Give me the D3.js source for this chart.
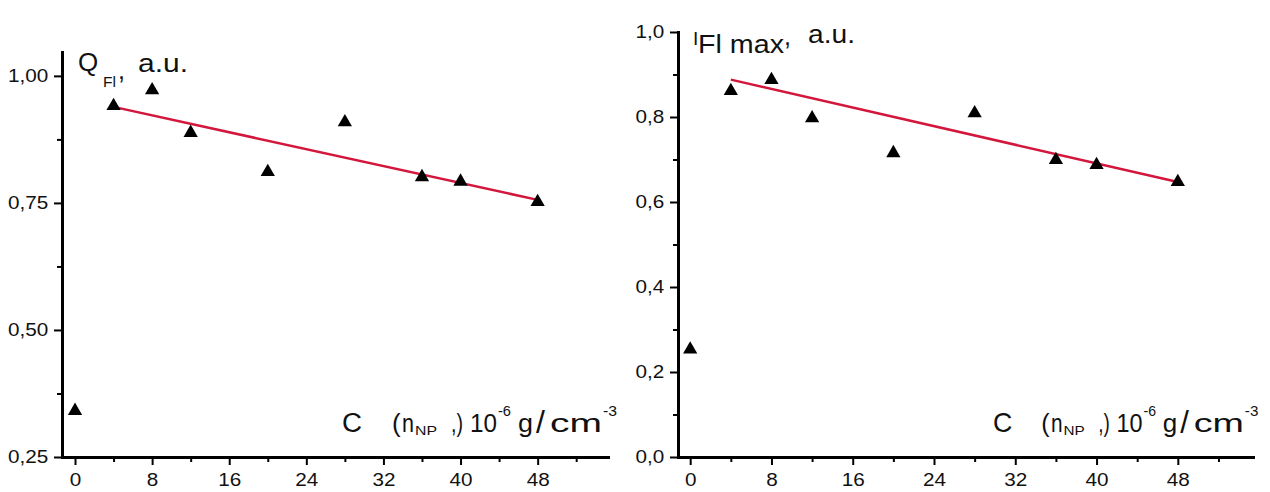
<!DOCTYPE html>
<html>
<head>
<meta charset="utf-8">
<script src="https://cdn.jsdelivr.net/npm/d3@7"></script>
<style>
  html, body { margin: 0; padding: 0; background: #fff; }
  svg { display: block; }
  text { font-family: "Liberation Sans", Arial, sans-serif; fill: #111; }
</style>
</head>
<body>
<svg id="chart" width="1270" height="492"></svg>
<script>
// Nanoparticle concentration C(n_NP), 10^-6 g/cm^3
const concentration = [0, 4, 8, 12, 20, 28, 36, 40, 48];
// Fluorescence quantum yield Q_Fl, a.u.
const quantumYield = [0.345, 0.945, 0.976, 0.892, 0.815, 0.913, 0.805, 0.796, 0.756];
// Maximum fluorescence intensity I_Fl max, a.u.
const maxIntensity = [0.258, 0.866, 0.892, 0.802, 0.720, 0.814, 0.704, 0.692, 0.652];

// Linear fit over the doped samples (start / end concentration)
const fitRange = [4, 48];
const fitQuantumYield = [0.939, 0.756];
const fitMaxIntensity = [0.888, 0.647];

// Axis ticks
const xTicks = [0, 8, 16, 24, 32, 40, 48];
const xMinorTicks = [4, 12, 20, 28, 36, 44, 52];
const qTicks = [0.25, 0.50, 0.75, 1.00];
const qMinorTicks = [0.375, 0.625, 0.875];
const iTicks = [0.0, 0.2, 0.4, 0.6, 0.8, 1.0];
const iMinorTicks = [0.1, 0.3, 0.5, 0.7, 0.9];

const svg = d3.select("#chart");
const LABEL_STRETCH = 1.15;
const FIT_COLOR = "#d3163c";

const commaFormat = digits => v => d3.format(`.${digits}f`)(v).replace(".", ",");

const panels = [
  {
    values: quantumYield, fit: fitQuantumYield,
    xDomain: [-1.35, 55.3], xRange: [62, 608],
    yDomain: [0.25, 1.047], yRange: [457, 52],
    yTicks: qTicks, yMinor: qMinorTicks, yFormat: commaFormat(2),
    xLabel: { x: 342, sx: 1.0 }
  },
  {
    values: maxIntensity, fit: fitMaxIntensity,
    xDomain: [-1.2, 55.4], xRange: [678, 1253],
    yDomain: [0, 1.0], yRange: [457, 32],
    yTicks: iTicks, yMinor: iMinorTicks, yFormat: commaFormat(1),
    xLabel: { x: 993, sx: 0.965 }
  }
];

// Single positioned run of text; optional textLength stretches the glyphs
function piece(parent, str, x, y, size, len) {
  const t = parent.append("text")
    .attr("x", x).attr("y", y)
    .attr("font-size", size)
    .text(str);
  if (len) t.attr("textLength", len).attr("lengthAdjust", "spacingAndGlyphs");
  return t;
}

function styleTickText(sel) {
  sel.selectAll("text")
    .attr("font-size", 18)
    .attr("fill", "#1a1a1a")
    .attr("transform", `scale(${LABEL_STRETCH},1)`);
}

panels.forEach(p => {
  const x = d3.scaleLinear().domain(p.xDomain).range(p.xRange);
  const y = d3.scaleLinear().domain(p.yDomain).range(p.yRange);
  const g = svg.append("g");

  // x axis: major ticks with labels, minor ticks without
  const xAxisG = g.append("g").attr("transform", `translate(0,${p.yRange[0]})`);
  xAxisG.append("g")
    .call(d3.axisBottom(x).tickValues(xMinorTicks.filter(v => v <= p.xDomain[1]))
      .tickSize(5).tickSizeOuter(0).tickFormat(""))
    .call(a => a.select(".domain").remove())
    .call(a => a.selectAll("line").attr("stroke", "#000").attr("stroke-width", 2));
  xAxisG.append("g")
    .call(d3.axisBottom(x).tickValues(xTicks).tickSize(8).tickPadding(8)
      .tickSizeOuter(0).tickFormat(d3.format("d")))
    .call(a => a.select(".domain").attr("stroke", "#000").attr("stroke-width", 3)
      .attr("stroke-linecap", "square"))
    .call(a => a.selectAll("line").attr("stroke", "#000").attr("stroke-width", 2))
    .call(styleTickText);

  // y axis
  const yAxisG = g.append("g").attr("transform", `translate(${p.xRange[0]},0)`);
  yAxisG.append("g")
    .call(d3.axisLeft(y).tickValues(p.yMinor).tickSize(5).tickSizeOuter(0).tickFormat(""))
    .call(a => a.select(".domain").remove())
    .call(a => a.selectAll("line").attr("stroke", "#000").attr("stroke-width", 2));
  yAxisG.append("g")
    .call(d3.axisLeft(y).tickValues(p.yTicks).tickSize(8).tickPadding(4)
      .tickSizeOuter(0).tickFormat(p.yFormat))
    .call(a => a.select(".domain").attr("stroke", "#000").attr("stroke-width", 3)
      .attr("stroke-linecap", "square"))
    .call(a => a.selectAll("line").attr("stroke", "#000").attr("stroke-width", 2))
    .call(styleTickText);

  // linear fit
  const line = d3.line().x(d => x(d[0])).y(d => y(d[1]));
  g.append("path")
    .datum(fitRange.map((c, i) => [c, p.fit[i]]))
    .attr("d", line)
    .attr("fill", "none")
    .attr("stroke", FIT_COLOR)
    .attr("stroke-width", 2.5);

  // triangle markers (bounding box centred on the data point)
  const triSize = 88;
  const triOffset = Math.sqrt(triSize / (3 * Math.sqrt(3))) / 2;
  g.append("g").selectAll("path")
    .data(concentration.map((c, i) => [c, p.values[i]]))
    .join("path")
    .attr("d", d3.symbol().type(d3.symbolTriangle).size(triSize))
    .attr("transform", d => `translate(${x(d[0])},${y(d[1]) + triOffset})`)
    .attr("fill", "#000");

  // x axis title: C (n_NP), 10^-6 g/cm^-3
  const xl = g.append("g").attr("transform", `translate(${p.xLabel.x},0) scale(${p.xLabel.sx},1)`);
  const base = 432;
  piece(xl, "C", 0, base, 27, 20);
  piece(xl, "(", 50, base, 26);
  piece(xl, "n", 60, base, 26, 12);
  piece(xl, "NP", 73, base + 3, 13, 22);
  piece(xl, ",)", 109, base, 26, 12);
  piece(xl, "10", 128, base, 26, 27);
  piece(xl, "-6", 156, base - 16, 14, 13);
  piece(xl, "g", 176, base, 26, 15);
  piece(xl, "/", 194, base + 1, 32);
  piece(xl, "cm", 208, base, 26, 52);
  piece(xl, "-3", 261, base - 16, 14, 14);
});

// y axis titles
const qTitle = svg.append("g");
piece(qTitle, "Q", 78, 71, 26);
piece(qTitle, "Fl", 103, 87, 14, 13);
piece(qTitle, ",", 118, 79, 25);
piece(qTitle, "a.u.", 138, 72, 26, 50);

const iTitle = svg.append("g");
piece(iTitle, "I", 693, 45, 19);
piece(iTitle, "Fl max", 698, 53, 26, 86);
piece(iTitle, ",", 784, 45, 25);
piece(iTitle, "a.u.", 808, 43, 26, 47);
</script>
</body>
</html>
